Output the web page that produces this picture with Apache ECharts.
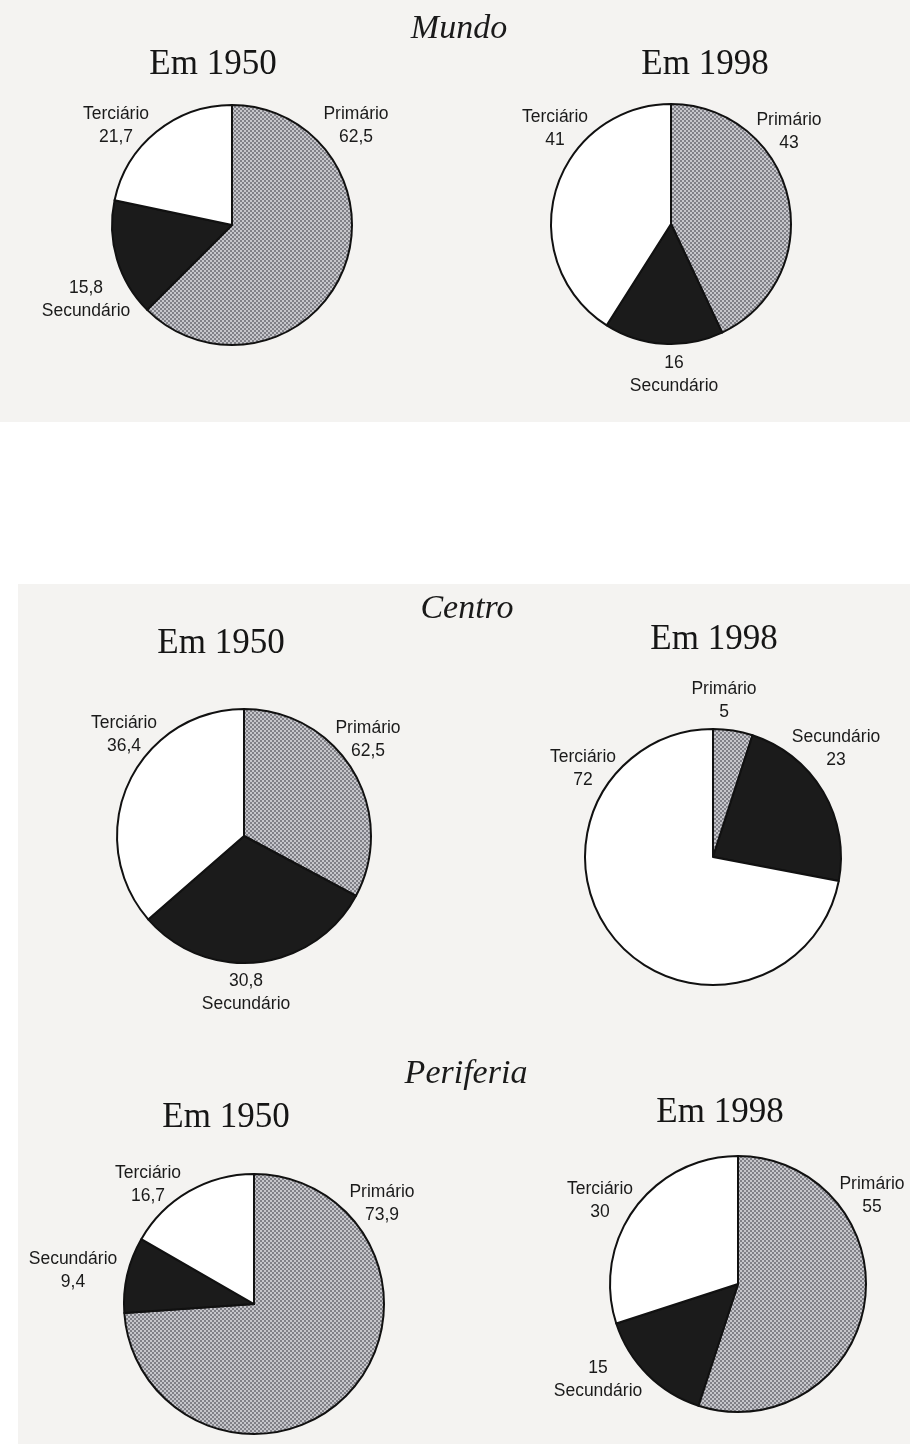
<!DOCTYPE html>
<html>
<head>
<meta charset="utf-8">
<script src="https://cdn.jsdelivr.net/npm/echarts@6/dist/echarts.min.js"></script>
<style>
  html, body { margin: 0; padding: 0; background: #fff; }
  #chart { width: 910px; height: 1444px; }
</style>
</head>
<body>
<div id="chart"></div>
<script>
// setores (ordem: a partir do topo, sentido horário)
const categories = ['Primário', 'Secundário', 'Terciário'];

const mundo1950 = [62.5, 15.8, 21.7];
const mundo1998 = [43, 16, 41];
// no original o setor primário do Centro 1950 está desenhado com ~1/3 do círculo,
// embora o rótulo impresso diga 62,5
const centro1950 = [32.8, 30.8, 36.4];
const centro1950Printed = ['62,5', '30,8', '36,4'];
const centro1998 = [5, 23, 72];
const periferia1950 = [73.9, 9.4, 16.7];
const periferia1998 = [55, 15, 30];

const groupTitles = ['Mundo', 'Centro', 'Periferia'];
const yearTitles = ['Em 1950', 'Em 1998'];

function fmt(v) {
  return String(v).replace('.', ',');
}

// padrão quadriculado cinza do setor primário
function checker() {
  const c = document.createElement('canvas');
  c.width = 4; c.height = 4;
  const g = c.getContext('2d');
  g.fillStyle = '#c6c6cb';
  g.fillRect(0, 0, 4, 4);
  g.fillStyle = '#808087';
  g.fillRect(0, 0, 2, 2);
  g.fillRect(2, 2, 2, 2);
  return c;
}
const primFill = { image: checker(), repeat: 'repeat' };
const sliceColors = [primFill, '#1b1b1b', '#ffffff'];

// posição de cada pizza e de seus rótulos (px)
const panels = [
  { values: mundo1950, center: [232, 225], r: 120,
    labels: [[356, 126], [86, 300], [116, 126]], numFirst: [false, true, false] },
  { values: mundo1998, center: [671, 224], r: 120,
    labels: [[789, 132], [674, 375], [555, 129]], numFirst: [false, true, false] },
  { values: centro1950, printed: centro1950Printed, center: [244, 836], r: 127,
    labels: [[368, 740], [246, 993], [124, 735]], numFirst: [false, true, false] },
  { values: centro1998, center: [713, 857], r: 128,
    labels: [[724, 701], [836, 749], [583, 769]], numFirst: [false, false, false] },
  { values: periferia1950, center: [254, 1304], r: 130,
    labels: [[382, 1204], [73, 1271], [148, 1185]], numFirst: [false, false, false] },
  { values: periferia1998, center: [738, 1284], r: 128,
    labels: [[872, 1196], [598, 1380], [600, 1201]], numFirst: [false, true, false] }
];

const groupPos = [[459, 12], [467, 592], [466, 1057]];
const yearPos = [
  [[213, 47], [705, 47]],
  [[221, 626], [714, 622]],
  [[226, 1100], [720, 1095]]
];

const serif = '"Liberation Serif", "DejaVu Serif", serif';
const sans = '"Liberation Sans", Arial, sans-serif';

const titles = [];
groupTitles.forEach((t, i) => {
  titles.push({
    text: t, left: groupPos[i][0], top: groupPos[i][1], textAlign: 'center', padding: 0,
    textStyle: { fontFamily: serif, fontStyle: 'italic', fontWeight: 'normal', fontSize: 34, color: '#1a1a1a' }
  });
  yearTitles.forEach((y, j) => {
    titles.push({
      text: y, left: yearPos[i][j][0], top: yearPos[i][j][1], textAlign: 'center', padding: 0,
      textStyle: { fontFamily: serif, fontWeight: 'normal', fontSize: 35, color: '#151515' }
    });
  });
});

const series = panels.map((p, si) => ({
  type: 'pie',
  center: p.center,
  radius: p.r,
  startAngle: 90,
  clockwise: true,
  silent: true,
  animation: false,
  itemStyle: { borderColor: '#111', borderWidth: 2 },
  label: {
    show: true,
    position: 'outside',
    overflow: 'none',
    fontFamily: sans,
    fontSize: 17.5,
    color: '#1a1a1a',
    lineHeight: 23,
    align: 'center',
    formatter: (d) => {
      const num = p.printed ? p.printed[d.dataIndex] : fmt(d.value);
      return p.numFirst[d.dataIndex] ? num + '\n' + d.name : d.name + '\n' + num;
    }
  },
  labelLine: { show: false },
  labelLayout: (params) => ({
    x: p.labels[params.dataIndex][0],
    y: p.labels[params.dataIndex][1],
    align: 'center',
    verticalAlign: 'middle'
  }),
  data: categories.map((c, k) => ({
    name: c,
    value: p.values[k],
    itemStyle: { color: sliceColors[k] }
  }))
}));

const chart = echarts.init(document.getElementById('chart'), null, { renderer: 'canvas' });
chart.setOption({
  backgroundColor: '#ffffff',
  animation: false,
  graphic: [
    { type: 'rect', z: -10, silent: true, shape: { x: 0, y: 0, width: 910, height: 422 }, style: { fill: '#f4f3f1' } },
    { type: 'rect', z: -10, silent: true, shape: { x: 18, y: 584, width: 892, height: 860 }, style: { fill: '#f4f3f1' } }
  ],
  title: titles,
  series: series
});
</script>
</body>
</html>
